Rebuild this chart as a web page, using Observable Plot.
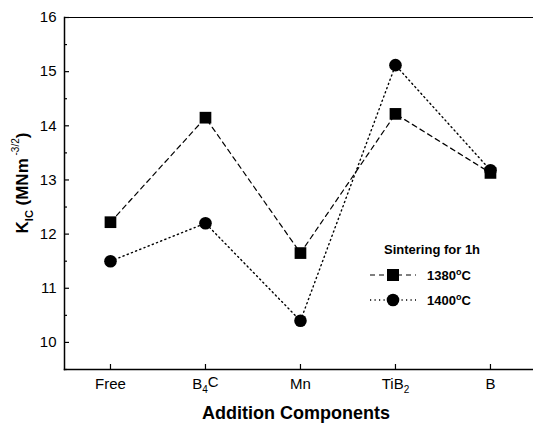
<!DOCTYPE html>
<html>
<head>
<meta charset="utf-8">
<script src="https://cdn.jsdelivr.net/npm/d3@7"></script>
<script src="https://cdn.jsdelivr.net/npm/@observablehq/plot@0.6"></script>
<style>
  html, body { margin: 0; padding: 0; background: #fff; }
  #chart { position: relative; width: 533px; height: 423px; }
  svg { font-family: "Liberation Sans", Arial, sans-serif; }
</style>
</head>
<body>
<div id="chart"></div>
<script>
const categories = ["Free", "B4C", "Mn", "TiB2", "B"];
const series1380 = [12.22, 14.15, 11.65, 14.22, 13.13];
const series1400 = [11.50, 12.20, 10.40, 15.12, 13.18];
const seriesNames = ["1380°C", "1400°C"];
const yTicks = [10, 11, 12, 13, 14, 15, 16];
const yMinorTicks = [9.5, 10.5, 11.5, 12.5, 13.5, 14.5, 15.5];
const legendTitle = "Sintering for 1h";

const rows = [];
categories.forEach((c, i) => {
  rows.push({i, cat: c, s: seriesNames[0], v: series1380[i]});
  rows.push({i, cat: c, s: seriesNames[1], v: series1400[i]});
});
const r1380 = rows.filter(d => d.s === seriesNames[0]);
const r1400 = rows.filter(d => d.s === seriesNames[1]);

const chart = Plot.plot({
  width: 533,
  height: 423,
  marginLeft: 64,
  marginRight: 0,
  marginTop: 17,
  marginBottom: 54,
  style: {fontFamily: "Liberation Sans, Arial, sans-serif", fontSize: "15px", color: "#000", background: "#fff"},
  x: {type: "linear", domain: [-0.484, 4.453], axis: null},
  y: {domain: [9.5, 16], axis: null},
  marks: [
    Plot.frame({anchor: "left", stroke: "#000", strokeWidth: 1.5}),
    Plot.frame({anchor: "bottom", stroke: "#000", strokeWidth: 1.5}),
    Plot.frame({anchor: "top", stroke: "#000", strokeWidth: 1}),
    Plot.axisY(yTicks, {label: null, tickSize: -5, tickPadding: 13, fontSize: 15, tickFormat: "d", stroke: "#000", strokeWidth: 1.2, color: "#000"}),
    Plot.axisY(yMinorTicks, {label: null, tickSize: -3, tickFormat: () => "", stroke: "#000", strokeWidth: 1.2}),
    Plot.axisX(categories.map((c, i) => i), {label: null, tickSize: -5, tickPadding: 14, fontSize: 15, tickFormat: i => categories[i], stroke: "#000", strokeWidth: 1.2}),
    Plot.line(r1380, {x: "i", y: "v", stroke: "#000", strokeWidth: 1.2, strokeDasharray: "5,4"}),
    Plot.line(r1400, {x: "i", y: "v", stroke: "#000", strokeWidth: 1.4, strokeDasharray: "1.2,3.3"}),
    Plot.dot(r1380, {x: "i", y: "v", symbol: "square", r: 6.6, fill: "#000", stroke: "none"}),
    Plot.dot(r1400, {x: "i", y: "v", symbol: "circle", r: 6.3, fill: "#000", stroke: "none"})
  ]
});

document.getElementById("chart").appendChild(chart);
const svg = d3.select(chart);

// subscripts in category labels
svg.selectAll("text").each(function() {
  const t = this.textContent;
  const m = /^([A-Za-z]+?)(\d)([A-Za-z]*)$/.exec(t);
  if (m && categories.includes(t)) {
    const el = d3.select(this);
    const target = el.select("tspan").empty() ? el : el.select("tspan");
    target.text(null);
    target.append("tspan").text(m[1]);
    target.append("tspan").attr("dy", "0.35em").attr("font-size", "10px").text(m[2]);
    if (m[3]) target.append("tspan").attr("dy", "-0.35em").text(m[3]);
  }
});

// y axis title
const yl = svg.append("text")
  .attr("transform", "translate(28,183) rotate(-90)")
  .attr("text-anchor", "middle")
  .attr("font-weight", "bold")
  .attr("font-size", "17px")
  .attr("fill", "#000");
yl.append("tspan").text("K");
yl.append("tspan").attr("dy", "5").attr("font-size", "11px").text("IC");
yl.append("tspan").attr("dy", "-5").text(" (MNm");
yl.append("tspan").attr("dy", "-9").attr("font-size", "10px").attr("font-weight", "normal").text(" -3/2");
yl.append("tspan").attr("dy", "9").text(")");

// x axis title
svg.append("text")
  .attr("x", 296).attr("y", 419)
  .attr("text-anchor", "middle")
  .attr("font-weight", "bold")
  .attr("font-size", "18px")
  .attr("fill", "#000")
  .text("Addition Components");

// legend
const lg = svg.append("g").attr("fill", "#000").attr("font-weight", "bold").attr("text-anchor", "start");
lg.append("text").attr("x", 384).attr("y", 254).attr("font-size", "13px").text(legendTitle);
const rowsY = [275, 300];
lg.append("line").attr("x1", 370).attr("x2", 416).attr("y1", rowsY[0]).attr("y2", rowsY[0])
  .attr("stroke", "#000").attr("stroke-width", 1.2).attr("stroke-dasharray", "5,4");
lg.append("rect").attr("x", 387).attr("y", rowsY[0] - 6).attr("width", 12).attr("height", 12);
lg.append("line").attr("x1", 370).attr("x2", 416).attr("y1", rowsY[1]).attr("y2", rowsY[1])
  .attr("stroke", "#000").attr("stroke-width", 1.4).attr("stroke-dasharray", "1.2,3.3");
lg.append("circle").attr("cx", 393).attr("cy", rowsY[1]).attr("r", 6.3);
rowsY.forEach((y, k) => {
  const t = lg.append("text").attr("x", 427).attr("y", y + 5).attr("font-size", "13px");
  const name = seriesNames[k].replace("°C", "");
  t.append("tspan").text(name);
  t.append("tspan").attr("dy", "-5").attr("font-size", "9px").text("o");
  t.append("tspan").attr("dy", "5").text("C");
});
</script>
</body>
</html>
